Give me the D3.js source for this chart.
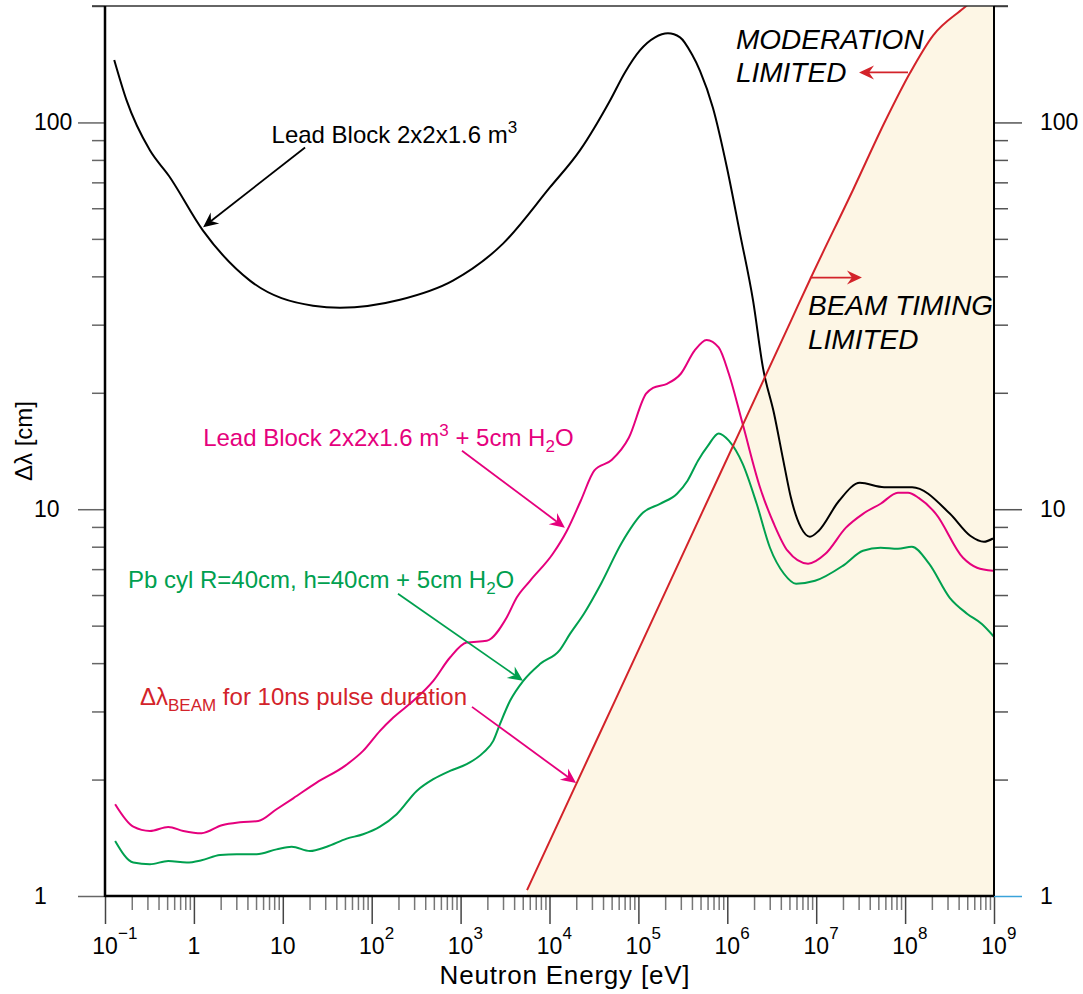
<!DOCTYPE html>
<html>
<head>
<meta charset="utf-8">
<script src="https://cdn.jsdelivr.net/npm/d3@7"></script>
<style>
  body { margin: 0; background: #fff; }
  svg text { font-family: "Liberation Sans", Arial, Helvetica, sans-serif; }
</style>
</head>
<body>
<div id="chart"></div>
<script>
// energies in eV, delta-lambda in cm
const leadE  = [0.127, 0.175, 0.32, 0.525, 1.26, 4.27, 21.9, 44, 208, 820, 3000, 1.01e4, 2.2e4, 4.8e4, 7.06e4, 1.04e5, 1.54e5, 2.15e5, 2.94e5, 4.0e5, 4.93e5, 6.9e5, 9.9e5, 1.39e6, 1.95e6, 2.52e6, 3.35e6, 4.34e6, 5.2e6, 6.75e6, 8.5e6, 1.07e7, 1.8e7, 3.1e7, 5.8e7, 1.2e8, 3.2e8, 5.4e8, 7.7e8, 9.75e8];
const leadDL = [145, 114, 84.7, 72.7, 52.6, 39, 33.6, 33.2, 34.8, 39, 48.6, 67.9, 84.7, 114, 134.7, 153.6, 166, 170, 166, 150, 136, 109, 76.5, 51.6, 34.6, 23.2, 17.7, 13.1, 10.7, 8.96, 8.49, 8.8, 10.5, 11.7, 11.4, 11.4, 9.73, 8.54, 8.24, 8.4];

const leadWaterE  = [0.13, 0.208, 0.32, 0.515, 0.76, 1.22, 2.06, 3.3, 5.3, 8.5, 13.1, 24, 50, 80, 124, 175, 294, 493, 760, 1170, 1970, 3300, 4280, 6040, 1.09e4, 1.57e4, 2.24e4, 3.2e4, 5e4, 7.8e4, 1.22e5, 1.46e5, 2.1e5, 3.0e5, 4.28e5, 5.85e5, 8e5, 1.04e6, 1.49e6, 2.33e6, 3.34e6, 4.76e6, 8.1e6, 1.27e7, 2.16e7, 3.36e7, 5.3e7, 8.3e7, 1.08e8, 1.42e8, 2.22e8, 4.48e8, 6.44e8, 9.75e8];
const leadWaterDL = [1.727, 1.511, 1.473, 1.508, 1.473, 1.453, 1.524, 1.551, 1.563, 1.676, 1.789, 1.964, 2.17, 2.372, 2.673, 2.893, 3.196, 3.6, 4.137, 4.52, 4.57, 5.25, 5.91, 6.53, 7.67, 8.8, 10.5, 12.6, 13.4, 15.3, 19.9, 20.6, 21.1, 22.4, 25.7, 27.4, 26.2, 22.4, 16.6, 11.4, 9.17, 7.81, 7.23, 7.67, 8.96, 9.73, 10.33, 11.03, 11.03, 10.7, 9.73, 7.49, 7.06, 6.93];

const pbCylE  = [0.13, 0.208, 0.32, 0.515, 0.83, 1.22, 1.97, 3.03, 5.08, 8.5, 12.6, 20.2, 31.2, 52.4, 80, 124, 191, 321, 493, 760, 1170, 1800, 2330, 2770, 3600, 5070, 7800, 1.31e4, 1.7e4, 2.44e4, 3.8e4, 6.5e4, 1.13e5, 1.75e5, 2.72e5, 3.57e5, 4.68e5, 6.07e5, 8e5, 1.04e6, 1.49e6, 2.14e6, 3.02e6, 4.34e6, 5.93e6, 9.7e6, 1.99e7, 3.36e7, 5.3e7, 8.3e7, 1.19e8, 1.86e8, 3.18e8, 4.97e8, 7.3e8, 1e9];
const pbCylDL = [1.388, 1.22, 1.208, 1.232, 1.22, 1.237, 1.277, 1.282, 1.282, 1.32, 1.341, 1.307, 1.341, 1.407, 1.444, 1.511, 1.627, 1.869, 2.004, 2.106, 2.191, 2.348, 2.518, 2.782, 3.196, 3.6, 3.977, 4.33, 4.76, 5.37, 6.42, 8.19, 9.8, 10.33, 10.97, 11.85, 13.35, 14.6, 15.7, 15.04, 13.1, 10.33, 7.95, 6.81, 6.42, 6.53, 7.14, 7.81, 7.95, 7.9, 8.0, 7.23, 5.9, 5.37, 5.05, 4.68];

const beamE  = [5590, 1.84e4, 5.46e4, 5.2e5, 1.49e6, 5.2e6, 8.5e6, 2.6e7, 6e7, 1.13e8, 2.07e8, 4.5e8, 6e8];
const beamDL = [1.036, 1.87, 3.2, 9.8, 16.5, 30.7, 39.2, 67, 101, 134, 168, 197, 208];

const xMajor = [1e-1, 1, 10, 1e2, 1e3, 1e4, 1e5, 1e6, 1e7, 1e8, 1e9];
const xTickBase = ['10', '1', '10', '10', '10', '10', '10', '10', '10', '10', '10'];
const xTickExp  = ['\u22121', '', '', '2', '3', '4', '5', '6', '7', '8', '9'];
const yMajor = [1, 10, 100];
const yTickLabels = ['1', '10', '100'];

const magenta = '#e5007d', green = '#00a04f', red = '#d3232a', cream = '#fdf6e5';

const W = 1083, H = 994;
const svg = d3.select('#chart').append('svg').attr('width', W).attr('height', H);

const x = d3.scaleLog().domain([0.1, 1e9]).range([105, 994]);
const y = d3.scaleLog().domain([1, 200]).range([896, 6]);

const xMinor = [];
for (let k = -1; k < 9; k++) for (let m = 2; m <= 9; m++) xMinor.push(m * Math.pow(10, k));
const yMinor = [];
for (let k = 0; k < 3; k++) for (let m = 2; m <= 9; m++) { const v = m * Math.pow(10, k); if (v <= 200) yMinor.push(v); }

svg.append('clipPath').attr('id', 'plot').append('rect')
    .attr('x', x(0.1)).attr('y', y(200))
    .attr('width', x(1e9) - x(0.1)).attr('height', y(1) - y(200));

const plot = svg.append('g').attr('clip-path', 'url(#plot)');

const zip = (es, vs) => es.map((e, i) => [e, vs[i]]);
const line = d3.line().x(d => x(d[0])).y(d => y(d[1])).curve(d3.curveMonotoneX);

// shaded beam-timing-limited region: under the beam line, out to the right edge
const beam = zip(beamE, beamDL);
const corners = [[1e9, beamDL[beamDL.length - 1]], [1e9, 1], [beamE[0], 1]];
plot.append('path')
    .attr('d', line(beam) + corners.map(d => 'L' + x(d[0]) + ',' + y(d[1])).join('') + 'Z')
    .attr('fill', cream);

const series = [
  {data: zip(leadE, leadDL), color: '#000'},
  {data: zip(leadWaterE, leadWaterDL), color: magenta},
  {data: zip(pbCylE, pbCylDL), color: green},
  {data: beam, color: red}
];
plot.selectAll('path.curve').data(series).enter().append('path')
    .attr('class', 'curve')
    .attr('d', d => line(d.data))
    .attr('fill', 'none')
    .attr('stroke', d => d.color)
    .attr('stroke-width', 2);

// axes
const styleTicks = (g, col) => {
  g.select('.domain').remove();
  g.selectAll('line').attr('stroke', col).attr('stroke-width', 1.5);
};
svg.append('g').attr('transform', `translate(0,${y(1)})`)
    .call(d3.axisBottom(x).tickValues(xMinor).tickSize(14).tickFormat(''))
    .call(g => styleTicks(g, '#777'));
svg.append('g').attr('transform', `translate(0,${y(1)})`)
    .call(d3.axisBottom(x).tickValues(xMajor).tickSize(28).tickFormat(''))
    .call(g => styleTicks(g, '#444'));
svg.append('g').attr('transform', `translate(${x(0.1)},0)`)
    .call(d3.axisLeft(y).tickValues(yMinor).tickSize(13).tickFormat(''))
    .call(g => styleTicks(g, '#666'));
svg.append('g').attr('transform', `translate(${x(0.1)},0)`)
    .call(d3.axisLeft(y).tickValues(yMajor).tickSize(27).tickFormat(''))
    .call(g => styleTicks(g, '#666'));
svg.append('g').attr('transform', `translate(${x(1e9)},0)`)
    .call(d3.axisRight(y).tickValues(yMinor).tickSize(14).tickFormat(''))
    .call(g => styleTicks(g, '#555'));
svg.append('g').attr('transform', `translate(${x(1e9)},0)`)
    .call(d3.axisRight(y).tickValues(yMajor).tickSize(28).tickFormat(''))
    .call(g => styleTicks(g, '#555'))
    .call(g => g.selectAll('.tick').filter(d => d === 1).select('line').attr('stroke', '#3aa3da'));

// frame
svg.append('line').attr('x1', x(0.1) - 13).attr('x2', x(1e9) + 14).attr('y1', y(200)).attr('y2', y(200))
    .attr('stroke', '#333').attr('stroke-width', 1.5);
svg.append('line').attr('x1', x(0.1)).attr('x2', x(0.1)).attr('y1', y(200)).attr('y2', y(1) + 1)
    .attr('stroke', '#000').attr('stroke-width', 2.5);
svg.append('line').attr('x1', x(0.1)).attr('x2', x(1e9)).attr('y1', y(1)).attr('y2', y(1))
    .attr('stroke', '#000').attr('stroke-width', 2.5);
svg.append('line').attr('x1', x(1e9)).attr('x2', x(1e9)).attr('y1', y(200)).attr('y2', y(1))
    .attr('stroke', '#000').attr('stroke-width', 2);

// tick labels
const xl = svg.append('g').attr('font-size', 23).attr('fill', '#000');
xMajor.forEach((v, i) => {
  xl.append('text').attr('x', x(v)).attr('y', 954).attr('text-anchor', 'middle').text(xTickBase[i]);
  if (xTickExp[i]) {
    xl.append('text').attr('x', x(v) + 13).attr('y', 939).attr('font-size', 17).text(xTickExp[i]);
  }
});
const yl = svg.append('g').attr('font-size', 23).attr('fill', '#000');
yMajor.forEach((v, i) => {
  yl.append('text').attr('x', 34).attr('y', y(v) + 8).text(yTickLabels[i]);
  yl.append('text').attr('x', 1040).attr('y', y(v) + 8).text(yTickLabels[i]);
});

svg.append('text').attr('x', 565).attr('y', 984).attr('text-anchor', 'middle')
    .attr('font-size', 26).attr('letter-spacing', 0.8).text('Neutron Energy [eV]');
svg.append('text').attr('transform', 'translate(32,441) rotate(-90)').attr('text-anchor', 'middle')
    .attr('font-size', 24).text('\u0394\u03bb [cm]');

// annotations
const arrow = (from, to, color) => {
  const x1 = x(from[0]), y1 = y(from[1]), x2 = x(to[0]), y2 = y(to[1]);
  const a = Math.atan2(y2 - y1, x2 - x1);
  const L = 15, hw = 7, notch = 10;
  const pt = (d, o) => [x2 - d * Math.cos(a) - o * Math.sin(a), y2 - d * Math.sin(a) + o * Math.cos(a)];
  svg.append('line').attr('x1', x1).attr('y1', y1)
      .attr('x2', pt(notch, 0)[0]).attr('y2', pt(notch, 0)[1])
      .attr('stroke', color).attr('stroke-width', 1.8);
  svg.append('path')
      .attr('d', 'M' + [[x2, y2], pt(L, hw), pt(notch, 0), pt(L, -hw)].map(p => p.join(',')).join('L') + 'Z')
      .attr('fill', color);
};

const arrows = [
  {from: [17.8, 86.1], to: [1.27, 53.6], color: '#000'},
  {from: [1037, 14.17], to: [1.49e4, 8.96], color: magenta},
  {from: [197.6, 6.045], to: [5035, 3.6], color: green},
  {from: [1343, 3.083], to: [1.99e4, 1.96], color: magenta},
  {from: [1.078e8, 134.7], to: [3.03e7, 134.7], color: red},
  {from: [8.5e6, 39.7], to: [3.27e7, 39.7], color: red}
];
arrows.forEach(d => arrow(d.from, d.to, d.color));

const label = (pos, color, parts, size, italic) => {
  const t = svg.append('text').attr('x', x(pos[0])).attr('y', y(pos[1]))
      .attr('fill', color).attr('font-size', size || 24);
  if (italic) t.attr('font-style', 'italic');
  parts.forEach(p => {
    const s = t.append('tspan').text(p.t);
    if (p.dy) s.attr('dy', p.dy);
    if (p.fs) s.attr('font-size', p.fs);
  });
};

label([7.47, 88.4], '#000', [{t: 'Lead Block 2x2x1.6 m'}, {t: '3', dy: -10, fs: 17}]);
label([1.27, 14.6], magenta, [{t: 'Lead Block 2x2x1.6 m'}, {t: '3', dy: -10, fs: 17},
  {t: ' + 5cm H', dy: 10}, {t: '2', dy: 6, fs: 17}, {t: 'O', dy: -6}]);
label([0.1815, 6.265], green, [{t: 'Pb cyl R=40cm, h=40cm + 5cm H'}, {t: '2', dy: 6, fs: 17}, {t: 'O', dy: -6}]);
label([0.2475, 3.12], red, [{t: '\u0394\u03bb'}, {t: 'BEAM', dy: 6, fs: 17}, {t: ' for 10ns pulse duration', dy: -6}]);
label([1.25e6, 154.5], '#000', [{t: 'MODERATION'}], 28, true);
label([1.25e6, 126.9], '#000', [{t: 'LIMITED'}], 28, true);
label([8.09e6, 31.7], '#000', [{t: 'BEAM TIMING'}], 28, true);
label([8.09e6, 26.0], '#000', [{t: 'LIMITED'}], 28, true);
</script>
</body>
</html>
